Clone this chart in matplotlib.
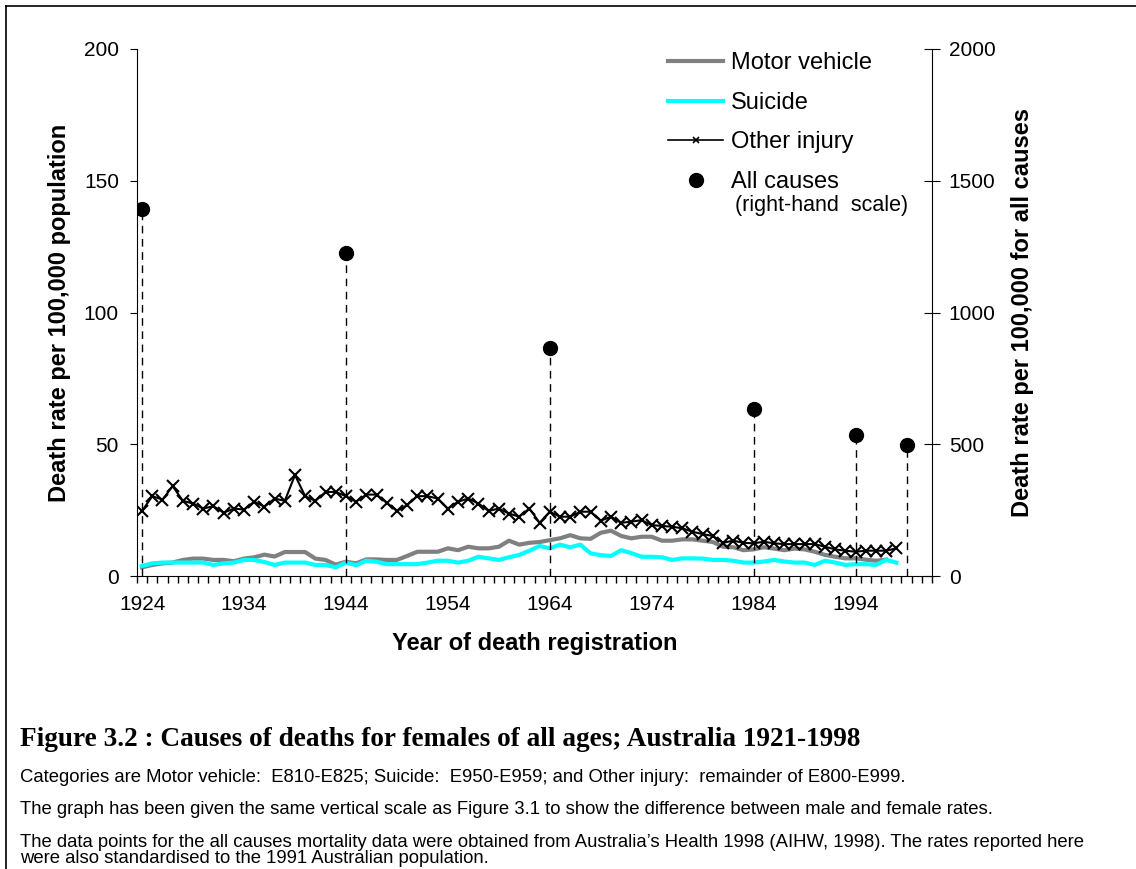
import numpy as np
import matplotlib
matplotlib.use('Agg')
import matplotlib.pyplot as plt
from matplotlib.lines import Line2D

plt.rcParams['font.family'] = ['Liberation Sans', 'DejaVu Sans']

years = list(range(1924, 1999))
motor_years = list(range(1924, 1998))

motor_vehicle = [3.3, 4.2, 4.8, 5.1, 6.1, 6.6, 6.6, 6.1, 6.1, 5.6, 6.6, 7.1, 8.1, 7.4, 9.1, 9.1, 9.1, 6.6, 6.1,
                 4.3, 5.4, 4.8, 6.3, 6.3, 6.1, 6.1, 7.6, 9.2, 9.2, 9.2, 10.5, 9.8, 11.1, 10.5, 10.5, 11.1, 13.4, 11.9, 12.6,
                 12.9, 13.6, 14.3, 15.5, 14.3, 14.1, 16.4, 17.2, 15.2, 14.3, 14.9, 14.9, 13.4, 13.4, 13.9, 13.9, 13.4, 12.9, 11.1,
                 10.9, 9.8, 10.1, 10.9, 10.4, 9.8, 10.4, 10.1, 9.2, 8.0, 7.3, 6.7, 6.7, 6.2, 5.8, 6.2]

suicide = [3.8, 4.8, 5.1, 5.1, 5.1, 5.1, 5.1, 4.2, 4.8, 5.1, 6.1, 6.1, 5.3, 4.2, 5.1, 5.1, 5.1, 4.2, 4.2,
           3.3, 5.1, 4.1, 5.8, 5.4, 4.5, 4.5, 4.5, 4.5, 5.1, 5.8, 5.8, 5.1, 5.8, 7.3, 6.7, 6.1, 7.1, 8.0, 9.6,
           11.4, 10.5, 11.9, 10.9, 11.9, 8.6, 7.9, 7.6, 9.8, 8.7, 7.3, 7.3, 7.1, 6.1, 6.7, 6.7, 6.6, 6.1, 6.1,
           5.8, 5.1, 5.1, 5.5, 6.1, 5.5, 5.1, 5.1, 4.2, 5.8, 5.1, 4.2, 4.5, 4.5, 4.2, 6.1, 5.1]

other_injury = [24.7, 30.3, 29.0, 34.1, 28.5, 27.5, 25.6, 26.5, 24.0, 25.6, 25.2, 28.2, 26.3, 29.4, 28.5, 38.3, 30.3, 28.5, 31.9,
                31.9, 30.3, 28.2, 30.9, 30.9, 27.8, 24.7, 26.9, 30.3, 30.3, 29.4, 25.6, 28.2, 29.4, 27.5, 24.7, 25.6, 23.7, 22.5, 25.6,
                20.2, 24.4, 22.5, 22.5, 24.4, 24.4, 21.0, 22.5, 20.2, 20.6, 21.2, 19.3, 19.0, 18.7, 18.1, 16.8, 15.9, 15.2, 12.6,
                13.4, 12.6, 12.4, 13.0, 12.4, 12.1, 12.1, 12.1, 12.1, 11.1, 10.1, 9.6, 9.2, 9.6, 9.6, 9.6, 10.5]

all_years = [1924, 1944, 1964, 1984, 1994, 1999]
all_causes = [1394, 1227, 867, 633, 535, 497]

tick_years = [1924, 1934, 1944, 1954, 1964, 1974, 1984, 1994]

fig = plt.figure(figsize=(11.36, 8.69), dpi=100)
ax = fig.add_axes([137 / 1136, 1 - 576 / 869, 795 / 1136, 527 / 869])
ax2 = ax.twinx()

ax.plot(motor_years, motor_vehicle, color='#808080', lw=3, zorder=2)
ax.plot(years, suicide, color='#00ffff', lw=3, zorder=3)
ax.plot(years, other_injury, color='black', lw=1.5, marker='x', ms=8, mew=1.5, zorder=4)

ax2.vlines(all_years, 0, all_causes, colors='black', linestyles=(0, (5.5, 4)), lw=1)
ax2.plot(all_years, all_causes, 'o', color='black', ms=10, zorder=5)

ax.set_xlim(1923.5, 2001.5)
ax.set_ylim(0, 200)
ax2.set_ylim(0, 2000)
ax.set_yticks([0, 50, 100, 150, 200])
ax2.set_yticks([0, 500, 1000, 1500, 2000])
ax.set_xticks(tick_years)
ax.set_xticks(np.arange(1923.5, 2002, 1), minor=True)
ax.tick_params(axis='x', which='major', length=0, pad=14, labelsize=15)
ax.tick_params(axis='x', which='minor', length=5, direction='out', width=1)
ax.tick_params(axis='y', length=5, direction='out', labelsize=15, pad=8)
ax2.tick_params(axis='y', length=12, direction='inout', labelsize=15, pad=6)

for s in ['top', 'right']:
    ax.spines[s].set_visible(False)
for s in ['top', 'left', 'bottom']:
    ax2.spines[s].set_visible(False)

ax.set_ylabel('Death rate per 100,000 population', fontsize=17, fontweight='bold')
ax.yaxis.set_label_coords(-0.083, 0.5)
ax2.set_ylabel('Death rate per 100,000 for all causes', fontsize=17, fontweight='bold')
ax2.yaxis.set_label_coords(1.1, 0.5)
ax.set_xlabel('Year of death registration', fontsize=17, fontweight='bold')
ax.xaxis.set_label_coords(0.5, -0.107)

handles = [Line2D([], [], color='#808080', lw=3),
           Line2D([], [], color='#00ffff', lw=3),
           Line2D([], [], color='black', lw=1.2, marker='x', ms=5, mew=1.2),
           Line2D([], [], color='black', marker='o', ls='none', ms=10)]
labels = ['Motor vehicle', 'Suicide', 'Other injury', 'All causes']
ax2.legend(handles, labels, loc='upper left', bbox_to_anchor=(659 / 1136, 1 - 43 / 869),
           bbox_transform=fig.transFigure, frameon=False, fontsize=17,
           handlelength=2.3, handletextpad=0.34, labelspacing=0.74, borderaxespad=0)
fig.text(735 / 1136, 1 - 206 / 869, '(right-hand  scale)', fontsize=15.5, va='center')

# frame around the figure (cut off at right and bottom)
fig.add_artist(Line2D([6 / 1136, 1], [1 - 6 / 869, 1 - 6 / 869], color='black', lw=1.2))
fig.add_artist(Line2D([6 / 1136, 6 / 1136], [0, 1 - 6 / 869], color='black', lw=1.2))

fig.text(20 / 1136, 1 - 740 / 869, 'Figure 3.2 : Causes of deaths for females of all ages; Australia 1921-1998',
         family='Liberation Serif', fontweight='bold', fontsize=19.6, va='center')
notes = ['Categories are Motor vehicle:  E810-E825; Suicide:  E950-E959; and Other injury:  remainder of E800-E999.',
         'The graph has been given the same vertical scale as Figure 3.1 to show the difference between male and female rates.',
         'The data points for the all causes mortality data were obtained from Australia\u2019s Health 1998 (AIHW, 1998). The rates reported here\nwere also standardised to the 1991 Australian population.']
fig.text(20 / 1136, 1 - 777 / 869, notes[0], fontsize=13.3, va='center')
fig.text(20 / 1136, 1 - 810 / 869, notes[1], fontsize=13.3, va='center')
fig.text(20 / 1136, 1 - 834 / 869, notes[2], fontsize=13.3, va='top', linespacing=0.92)

fig.savefig('out.png', dpi=100)
